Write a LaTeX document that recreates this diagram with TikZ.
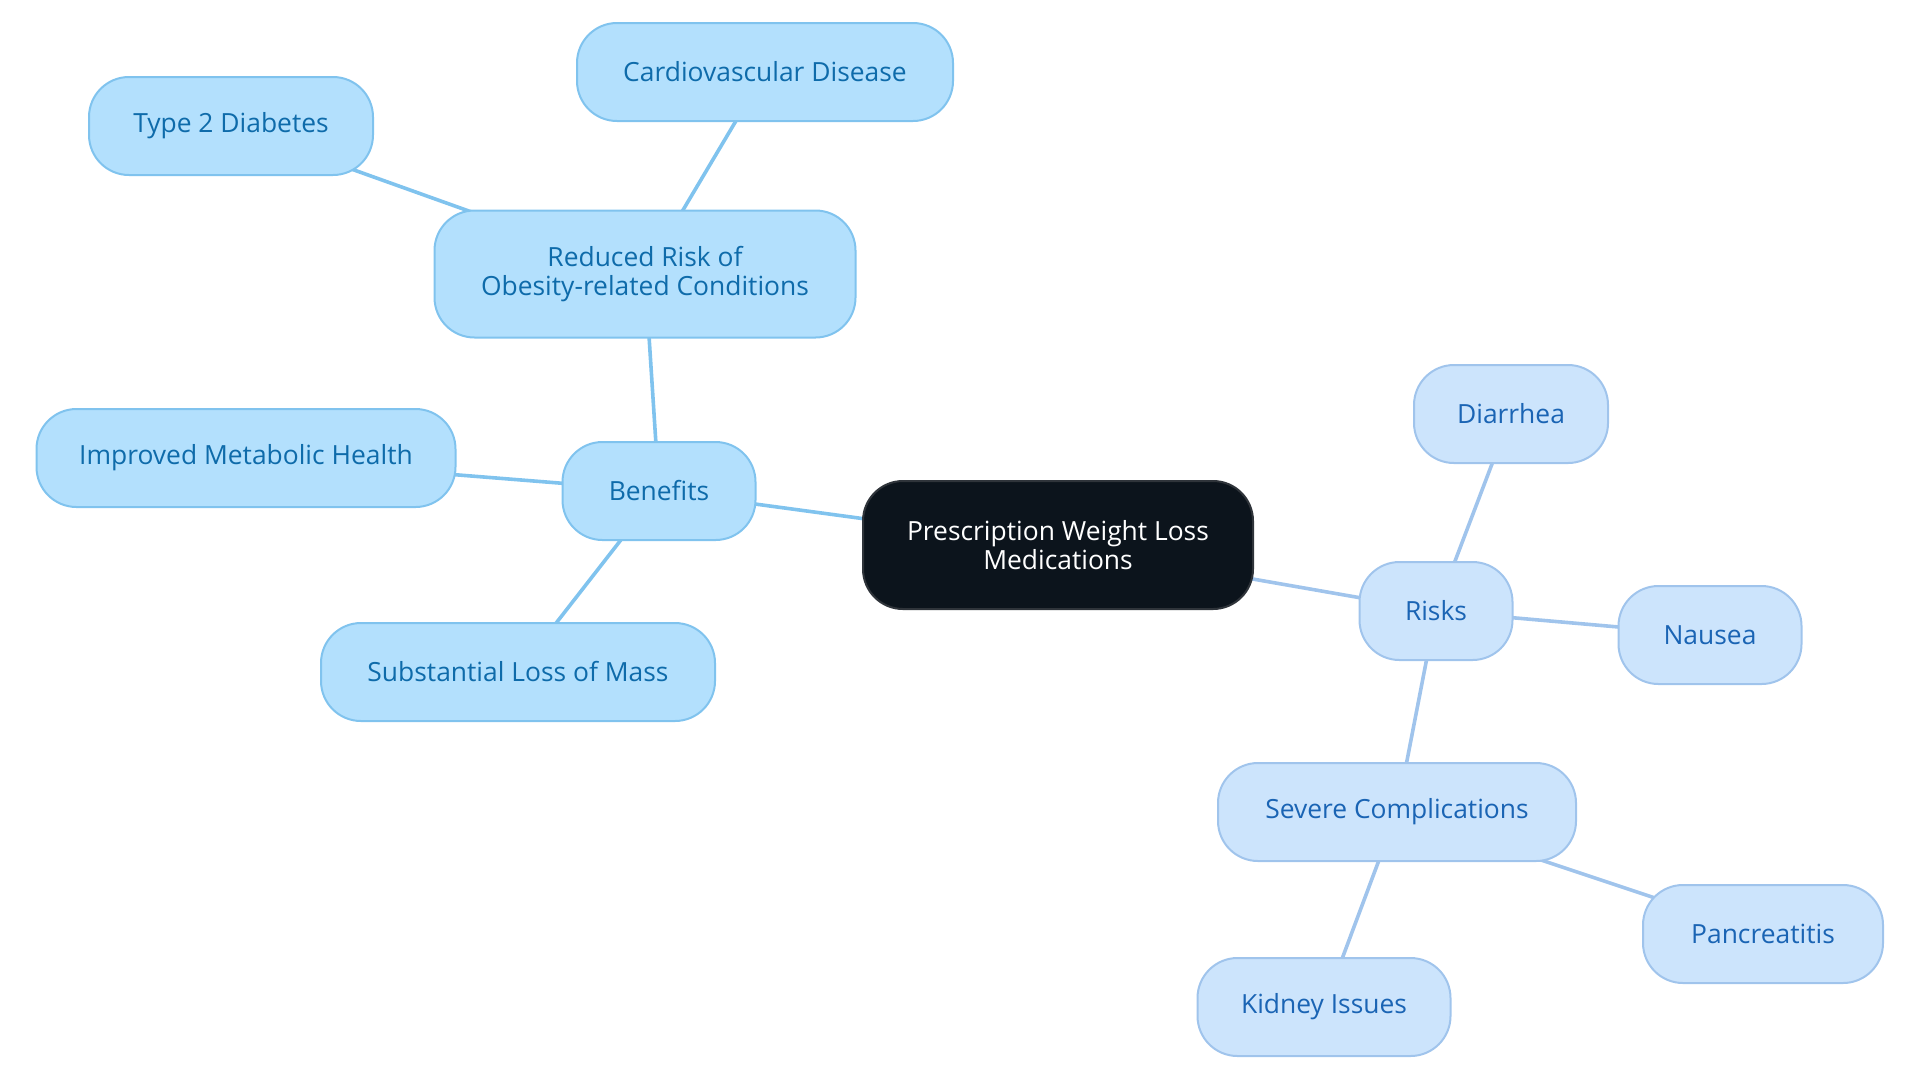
\documentclass[tikz,border=0pt]{standalone}
\usepackage{fontspec}
\setmainfont{Open Sans}
\usetikzlibrary{positioning,backgrounds}
\definecolor{benefill}{HTML}{B3E0FD}
\definecolor{benedraw}{HTML}{80C3EE}
\definecolor{benetext}{HTML}{0E6BAA}
\definecolor{riskfill}{HTML}{CCE4FC}
\definecolor{riskdraw}{HTML}{A0C4EC}
\definecolor{risktext}{HTML}{1A64B4}
\definecolor{rootfill}{HTML}{0C141C}
\tikzset{
    topic/.style={draw, line width=1pt, rounded corners=20pt, minimum height=49pt,
        align=center, inner sep=0pt, font=\fontsize{13.2}{14.7}\selectfont},
    benebox/.style={topic, fill=benefill, draw=benedraw, text=benetext},
    riskbox/.style={topic, fill=riskfill, draw=riskdraw, text=risktext},
    rootbox/.style={topic, fill=rootfill, draw=rootfill!70!gray, text=white},
    beneline/.style={draw=benedraw, line width=1.8pt},
    riskline/.style={draw=riskdraw, line width=1.8pt}
}
\begin{document}
\begin{tikzpicture}[x=0.5pt,y=-0.5pt]
        \useasboundingbox (0,0) rectangle (1920,1083);

        % Root
        \node[rootbox, minimum width=195pt, minimum height=64pt] (root) at (1058,545) {Prescription Weight Loss\\Medications};

        % Benefits branch
        \node[benebox, minimum width=96.5pt] (benefits) at (659,491) {Benefits};
        \node[benebox, minimum width=210.5pt, minimum height=63.5pt] (reduced) at (645,274) {Reduced Risk of\\Obesity-related Conditions};
        \node[benebox, minimum width=188pt] (cardio) at (765,72) {Cardiovascular Disease};
        \node[benebox, minimum width=142pt] (diabetes) at (231,126) {Type 2 Diabetes};
        \node[benebox, minimum width=209.5pt] (metabolic) at (246,458) {Improved Metabolic Health};
        \node[benebox, minimum width=197pt] (mass) at (518,672) {Substantial Loss of Mass};

        % Risks branch
        \node[riskbox, minimum width=76.5pt] (risks) at (1436,611) {Risks};
        \node[riskbox, minimum width=97pt] (diarrhea) at (1511,414) {Diarrhea};
        \node[riskbox, minimum width=91.5pt] (nausea) at (1710,635) {Nausea};
        \node[riskbox, minimum width=179pt] (severe) at (1397,812) {Severe Complications};
        \node[riskbox, minimum width=120pt] (pancreas) at (1763,934) {Pancreatitis};
        \node[riskbox, minimum width=126.5pt] (kidney) at (1324,1007) {Kidney Issues};

        % Connectors, centre to centre behind the boxes
        \begin{scope}[on background layer]
            \foreach \a/\b in {root/benefits, benefits/reduced, reduced/cardio,
                reduced/diabetes, benefits/metabolic, benefits/mass}
                \draw[beneline] (\a.center) -- (\b.center);
            \foreach \a/\b in {root/risks, risks/diarrhea, risks/nausea,
                risks/severe, severe/pancreas, severe/kidney}
                \draw[riskline] (\a.center) -- (\b.center);
        \end{scope}
\end{tikzpicture}
\end{document}
